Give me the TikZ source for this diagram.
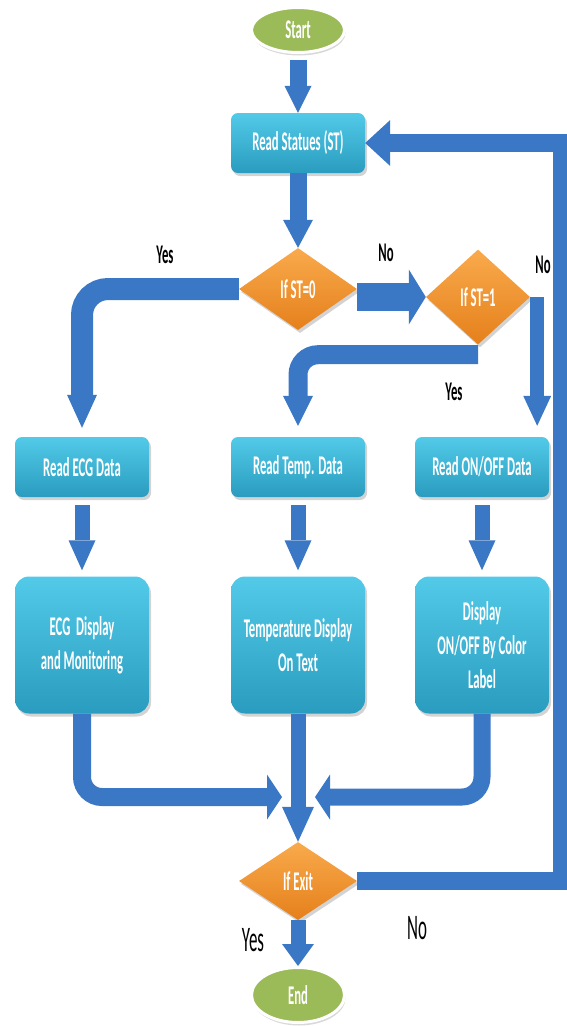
\documentclass[tikz,border=0pt]{standalone}
\usepackage{fontspec}
\setmainfont{Carlito}[FakeStretch=0.47]
\usetikzlibrary{arrows.meta,shapes.geometric,shadows,positioning}

\definecolor{boxtop}{HTML}{52CAE8}
\definecolor{boxbot}{HTML}{2A9CBF}
\definecolor{ortop}{HTML}{F9AA4C}
\definecolor{orbot}{HTML}{E5801C}
\definecolor{termgreen}{HTML}{9BBB59}
\definecolor{flowblue}{HTML}{3A78C6}

\tikzset{
  readbox/.style={rounded corners=7pt, top color=boxtop, bottom color=boxbot,
    text=white, minimum width=134pt, minimum height=60pt, align=center,
    font=\bfseries\fontsize{27}{34}\selectfont,
    drop shadow={opacity=0.35, shadow xshift=2pt, shadow yshift=-3pt}},
  bigbox/.style={readbox, minimum height=137pt, rounded corners=14pt},
  decide/.style={diamond, inner sep=0pt, top color=ortop, bottom color=orbot,
    text=white, font=\bfseries\fontsize{27}{34}\selectfont,
    drop shadow={opacity=0.35, shadow xshift=2pt, shadow yshift=-3pt}},
  terminal/.style={ellipse, fill=termgreen, draw=white, line width=3pt,
    minimum width=93pt, minimum height=45pt, text=white,
    font=\bfseries\fontsize{27}{30}\selectfont,
    drop shadow={opacity=0.3, shadow xshift=1pt, shadow yshift=-3pt}},
  answer/.style={font=\bfseries\fontsize{27}{30}\selectfont},
  answerbig/.style={font=\fontsize{36}{40}\selectfont},
  flow/.style n args={3}{draw=flowblue, line width=#1,
    -{Triangle[width=#2, length=#3, line width=0pt]}},
}

\begin{document}
\begin{tikzpicture}[x=1pt, y=1pt]
    \useasboundingbox (0,0) rectangle (567,-1026);

    \node[terminal] (start) at (298,-30) {Start};
    \node[readbox] (status) at (298,-143) {Read Statues (ST)};
    \node[decide, minimum width=118pt, minimum height=82pt] (st0) at (298,-289) {If ST=0};
    \node[decide, minimum width=104pt, minimum height=95pt] (st1) at (478,-297) {If ST=1};

    \node[readbox] (ecgread) at (82,-467) {Read ECG Data};
    \node[readbox] (tempread) at (298,-467) {Read Temp. Data};
    \node[readbox] (onoffread) at (482,-467) {Read ON/OFF Data};

    \node[bigbox] (ecgshow) at (82,-645) {ECG\ \ Display\\and Monitoring};
    \node[bigbox] (tempshow) at (298,-645) {Temperature Display\\On Text};
    \node[bigbox] (onoffshow) at (482,-645) {Display\\ON/OFF By Color\\Label};

    \node[decide, minimum width=118pt, minimum height=78pt] (exit) at (298,-881) {If Exit};
    \node[terminal, minimum height=55pt] (stop) at (298,-995) {End};

    % answers
    \node[answer] (yes0) at (165,-255) {Yes};
    \node[answer] (no0) at (386,-253) {No};
    \node[answer] (no1) at (543,-265) {No};
    \node[answer] (yes1) at (454,-392) {Yes};
    \node[answerbig] (yesx) at (253,-940) {Yes};
    \node[answerbig] (nox) at (417,-928) {No};

    \coordinate (merge) at (298,-797);
    \coordinate (rail) at (562,-500);

    \draw[flow={17pt}{27pt}{27pt}, shorten <=6pt] (start.south) -- (status.north);
    \draw[flow={17pt}{30pt}{28pt}] (status.south) -- (st0.north);
    \draw[flow={22pt}{30pt}{33pt}, rounded corners=26pt, shorten >=9pt] (st0.west) -| (ecgread.north);
    \draw[flow={28pt}{55pt}{17pt}] (st0.east |- st1) -- (st1.west);
    \draw[flow={19pt}{30pt}{30pt}, rounded corners=20pt, shorten >=11pt] ([yshift=-10pt]st1.south) -| (tempread.north);
    \draw[flow={14pt}{28pt}{30pt}, shorten >=11pt] ([xshift=7pt]st1.east) -- ([xshift=7pt]st1.east |- onoffread.north);

    \foreach \a/\b in {ecgread/ecgshow, tempread/tempshow, onoffread/onoffshow}
        \draw[flow={15pt}{27pt}{30pt}, shorten <=8pt, shorten >=6pt] (\a.south) -- (\a.south |- \b.north);

    \draw[flow={18pt}{45pt}{15pt}, rounded corners=20pt] (ecgshow.south) |- ([xshift=-16pt]merge);
    \draw[flow={17pt}{45pt}{15pt}, rounded corners=20pt] (onoffshow.south) |- ([xshift=17pt]merge);
    \draw[flow={15pt}{32pt}{35pt}] (tempshow.south) -- (exit.north);
    \draw[flow={18pt}{46pt}{25pt}] (exit.east) -| (rail) |- (status.east);
    \draw[flow={15pt}{32pt}{22pt}] (exit.south) -- (stop.north);
\end{tikzpicture}
\end{document}
